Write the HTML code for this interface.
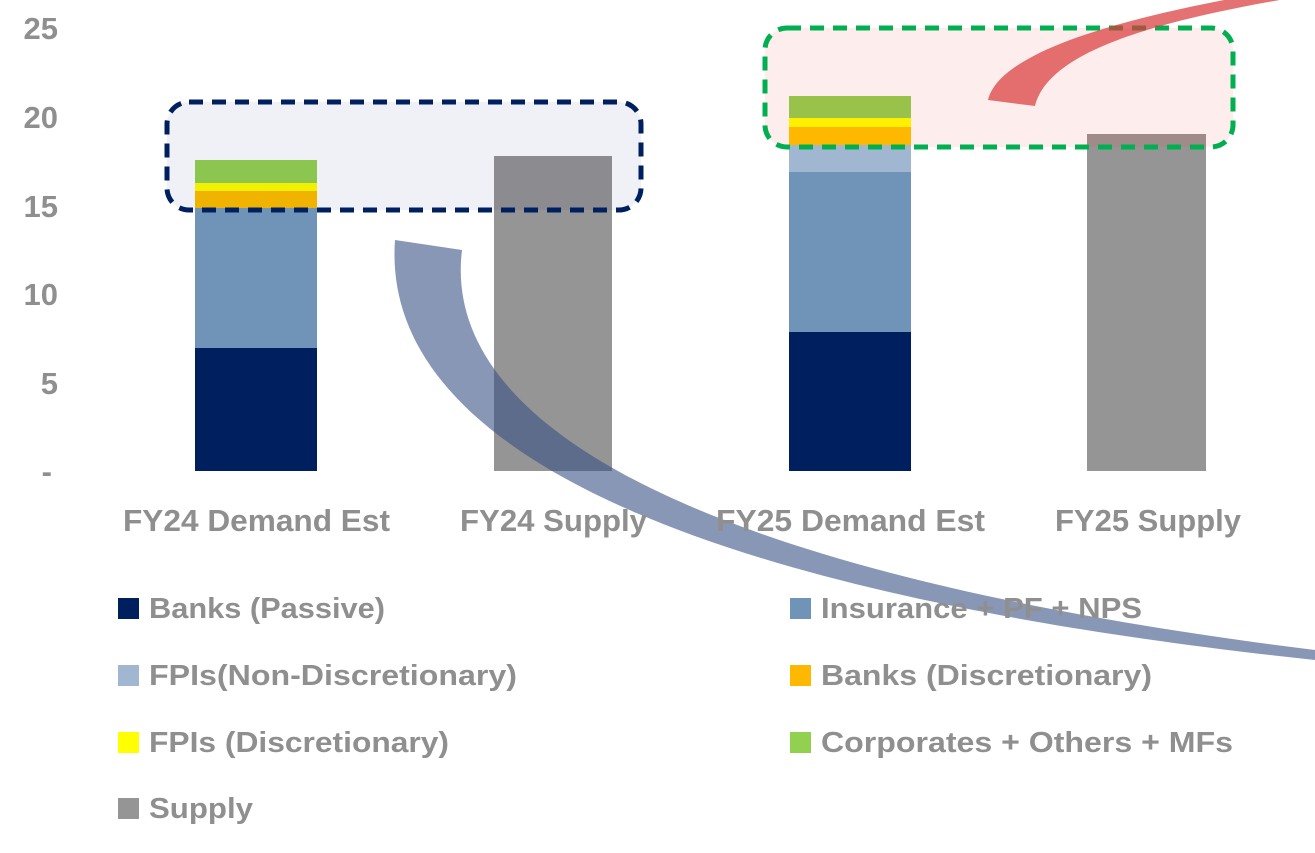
<!DOCTYPE html>
<html><head><style>
body{margin:0;width:1315px;height:853px;background:#fff;overflow:hidden;font-family:"Liberation Sans",sans-serif;}
</style></head><body>
<svg width="1315" height="853" xmlns="http://www.w3.org/2000/svg" style="position:absolute;left:0;top:0">
<g font-family="Liberation Sans, sans-serif" font-weight="bold" fill="#8f8f8f" font-size="31">
<text x="58" y="39" text-anchor="end">25</text>
<text x="58" y="128" text-anchor="end">20</text>
<text x="58" y="217" text-anchor="end">15</text>
<text x="58" y="305" text-anchor="end">10</text>
<text x="58" y="394" text-anchor="end">5</text>
<text x="52" y="482" text-anchor="end">-</text>
</g>
<rect x="167" y="102" width="474" height="108" rx="22" fill="#eff1f6"/>
<rect x="765" y="28" width="468" height="119" rx="22" fill="#fdeded"/>
<rect x="195" y="348" width="122" height="123" fill="#001f5f"/>
<rect x="195" y="208" width="122" height="140" fill="#7094b8"/>
<rect x="195" y="191" width="122" height="17" fill="#f0b400"/>
<rect x="195" y="183" width="122" height="8" fill="#f0f000"/>
<rect x="195" y="160" width="122" height="23" fill="#8cc650"/>
<rect x="494" y="156" width="118" height="315" fill="#959595"/>
<rect x="494" y="156" width="118" height="54" fill="#8b8b90"/>
<rect x="789" y="332" width="122" height="139" fill="#001f5f"/>
<rect x="789" y="172" width="122" height="160" fill="#7094b8"/>
<rect x="789" y="145" width="122" height="27" fill="#a1b6d0"/>
<rect x="789" y="127" width="122" height="18" fill="#ffb800"/>
<rect x="789" y="118" width="122" height="9" fill="#fff000"/>
<rect x="789" y="96" width="122" height="22" fill="#99c24a"/>
<rect x="1087" y="134" width="119" height="337" fill="#959595"/>
<rect x="1087" y="134" width="119" height="13" fill="#a08a8a"/>
<rect x="167" y="102" width="474" height="108" rx="22" fill="none" stroke="#001f5f" stroke-width="5" stroke-dasharray="14,9"/>
<rect x="765" y="28" width="468" height="119" rx="22" fill="none" stroke="#00b050" stroke-width="5" stroke-dasharray="14,9"/>
<path d="M988,100 C1000,50 1130,15 1280,-10 L1340,-10 C1180,15 1050,45 1035,106 Z" fill="#d93b3b" fill-opacity="0.72"/>
<path d="M395,240 C382,420 610,585 1315,660 L1315,650 C710,575 440,430 462,250 Z" fill="#3b5185" fill-opacity="0.6"/>
<g font-family="Liberation Sans, sans-serif" font-weight="bold" fill="#8f8f8f" font-size="31" lengthAdjust="spacingAndGlyphs">
<text x="123" y="531" textLength="267" lengthAdjust="spacingAndGlyphs">FY24 Demand Est</text>
<text x="460" y="531" textLength="187" lengthAdjust="spacingAndGlyphs">FY24 Supply</text>
<text x="716" y="531" textLength="269" lengthAdjust="spacingAndGlyphs">FY25 Demand Est</text>
<text x="1055" y="531" textLength="186" lengthAdjust="spacingAndGlyphs">FY25 Supply</text>
</g>
<g font-family="Liberation Sans, sans-serif" font-weight="bold" fill="#8f8f8f" font-size="29">
<rect x="118" y="598" width="21" height="21" fill="#001f5f"/><text x="149" y="618" textLength="236" lengthAdjust="spacingAndGlyphs">Banks (Passive)</text>
<rect x="790" y="598" width="21" height="21" fill="#7094b8"/><text x="821" y="618" textLength="321" lengthAdjust="spacingAndGlyphs">Insurance + PF + NPS</text>
<rect x="118" y="665" width="21" height="21" fill="#a1b6d0"/><text x="149" y="685" textLength="368" lengthAdjust="spacingAndGlyphs">FPIs(Non-Discretionary)</text>
<rect x="790" y="665" width="21" height="21" fill="#ffb800"/><text x="821" y="685" textLength="331" lengthAdjust="spacingAndGlyphs">Banks (Discretionary)</text>
<rect x="118" y="732" width="21" height="21" fill="#ffff00"/><text x="149" y="752" textLength="300" lengthAdjust="spacingAndGlyphs">FPIs (Discretionary)</text>
<rect x="790" y="732" width="21" height="21" fill="#92d050"/><text x="821" y="752" textLength="412" lengthAdjust="spacingAndGlyphs">Corporates + Others + MFs</text>
<rect x="118" y="798" width="21" height="21" fill="#959595"/><text x="149" y="818" textLength="104" lengthAdjust="spacingAndGlyphs">Supply</text>
</g>
</svg>
</body></html>
